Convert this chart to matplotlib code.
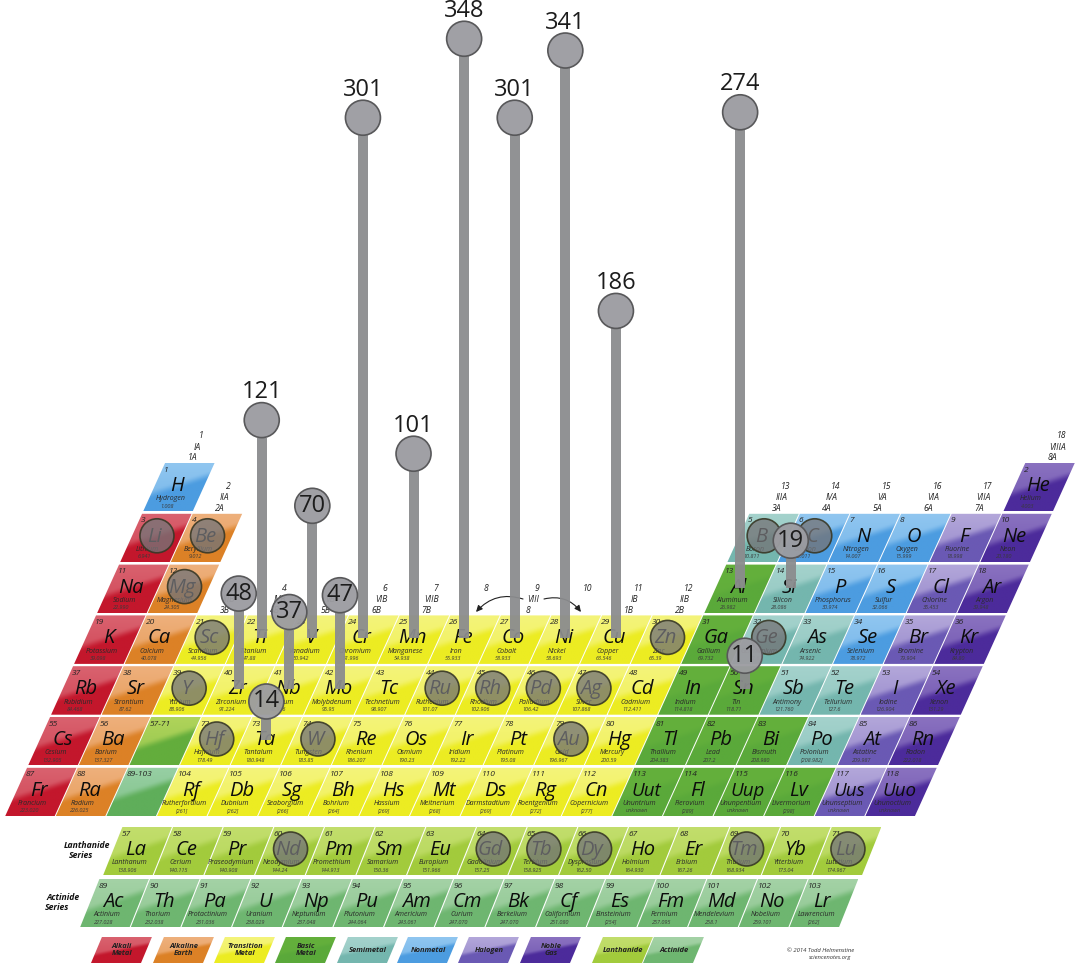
import numpy as np
import matplotlib
matplotlib.use("Agg")
import matplotlib.pyplot as plt
from matplotlib.patches import Polygon, Circle, FancyArrowPatch

plt.rcParams['font.family'] = ['Open Sans', 'DejaVu Sans']

# ---------- data ----------
main_numbers = [*range(1, 57), *range(72, 89), *range(104, 119)]
main_symbols = ("H He Li Be B C N O F Ne Na Mg Al Si P S Cl Ar "
                "K Ca Sc Ti V Cr Mn Fe Co Ni Cu Zn Ga Ge As Se Br Kr "
                "Rb Sr Y Zr Nb Mo Tc Ru Rh Pd Ag Cd In Sn Sb Te I Xe "
                "Cs Ba Hf Ta W Re Os Ir Pt Au Hg Tl Pb Bi Po At Rn "
                "Fr Ra Rf Db Sg Bh Hs Mt Ds Rg Cn Uut Fl Uup Lv Uus Uuo").split()
main_names = ("Hydrogen Helium Lithium Beryllium Boron Carbon Nitrogen Oxygen Fluorine Neon "
              "Sodium Magnesium Aluminum Silicon Phosphorus Sulfur Chlorine Argon "
              "Potassium Calcium Scandium Titanium Vanadium Chromium Manganese Iron Cobalt Nickel "
              "Copper Zinc Gallium Germanium Arsenic Selenium Bromine Krypton "
              "Rubidium Strontium Yttrium Zirconium Niobium Molybdenum Technetium Ruthenium Rhodium "
              "Palladium Silver Cadmium Indium Tin Antimony Tellurium Iodine Xenon "
              "Cesium Barium Hafnium Tantalum Tungsten Rhenium Osmium Iridium Platinum Gold Mercury "
              "Thallium Lead Bismuth Polonium Astatine Radon "
              "Francium Radium Rutherfordium Dubnium Seaborgium Bohrium Hassium Meitnerium "
              "Darmstadtium Roentgenium Copernicium Ununtrium Flerovium Ununpentium Livermorium "
              "Ununseptium Ununoctium").split()
main_masses = ("1.008 4.003 6.941 9.012 10.811 12.011 14.007 15.999 18.998 20.180 "
               "22.990 24.305 26.982 28.086 30.974 32.066 35.453 39.948 "
               "39.098 40.078 44.956 47.88 50.942 51.996 54.938 55.933 58.933 58.693 "
               "63.546 65.39 69.732 72.61 74.922 78.972 79.904 84.80 "
               "84.468 87.62 88.906 91.224 92.906 95.95 98.907 101.07 102.906 "
               "106.42 107.868 112.411 114.818 118.71 121.760 127.6 126.904 131.29 "
               "132.905 137.327 178.49 180.948 183.85 186.207 190.23 192.22 195.08 196.967 200.59 "
               "204.383 207.2 208.980 [208.982] 209.987 222.018 "
               "223.020 226.025 [261] [262] [266] [264] [269] [268] [269] [272] [277] "
               "unknown [289] unknown [298] unknown unknown").split()
main_groups = [1, 18, 1, 2, *range(13, 19), 1, 2, *range(13, 19),
               *range(1, 19), *range(1, 19),
               1, 2, *range(4, 19), 1, 2, *range(4, 19)]
main_periods = [1] * 2 + [2] * 8 + [3] * 8 + [4] * 18 + [5] * 18 + [6] * 17 + [7] * 17
main_kinds = ("N G A E S N N N H G A E B S N N H G "
              "A E T T T T T T T T T T B S S N H G "
              "A E T T T T T T T T T T B B S S H G "
              "A E T T T T T T T T T B B B S H G "
              "A E T T T T T T T T T B B B B H G").split()

lanth_symbols = "La Ce Pr Nd Pm Sm Eu Gd Tb Dy Ho Er Tm Yb Lu".split()
lanth_names = ("Lanthanum Cerium Praseodymium Neodymium Promethium Samarium Europium Gadolinium "
               "Terbium Dysprosium Holmium Erbium Thulium Ytterbium Lutetium").split()
lanth_masses = ("138.906 140.115 140.908 144.24 144.913 150.36 151.966 157.25 "
                "158.925 162.50 164.930 167.26 168.934 173.04 174.967").split()
actin_symbols = "Ac Th Pa U Np Pu Am Cm Bk Cf Es Fm Md No Lr".split()
actin_names = ("Actinium Thorium Protactinium Uranium Neptunium Plutonium Americium Curium "
               "Berkelium Californium Einsteinium Fermium Mendelevium Nobelium Lawrencium").split()
actin_masses = ("227.028 232.038 231.036 238.029 237.048 244.064 243.061 247.070 "
                "247.070 251.080 [254] 257.095 258.1 259.101 [262]").split()

stem_symbols = ["Fe", "Ni", "Cr", "Co", "Al", "Cu", "Ti", "Mn", "V", "Zr", "Mo", "Nb", "Si", "Ta", "Sn"]
stem_values = [348, 341, 301, 301, 274, 186, 121, 101, 70, 48, 47, 37, 19, 14, 11]
flat_symbols = ["Li", "Be", "Mg", "Sc", "Y", "Hf", "W", "Ru", "Rh", "Pd", "Ag", "Au", "Zn",
                "B", "C", "Ge", "Nd", "Gd", "Tb", "Dy", "Tm", "Lu"]

group_numbers = [str(i) for i in range(1, 19)]
group_roman = ["IA", "IIA", "IIIB", "IVB", "VB", "VIB", "VIIB", "", "VIII", "", "IB", "IIB",
               "IIIA", "IVA", "VA", "VIA", "VIIA", "VIIIA"]
group_cas = ["1A", "2A", "3B", "4B", "5B", "6B", "7B", "", "8", "", "1B", "2B",
             "3A", "4A", "5A", "6A", "7A", "8A"]
group_top_period = [1, 2, 4, 4, 4, 4, 4, 4, 4, 4, 4, 4, 2, 2, 2, 2, 2, 1]

legend_labels = ["Alkali\nMetal", "Alkaline\nEarth", "Transition\nMetal", "Basic\nMetal", "Semimetal",
                 "Nonmetal", "Halogen", "Noble\nGas", "Lanthanide", "Actinide"]
legend_kinds = ["A", "E", "T", "B", "S", "N", "H", "G", "L", "C"]

# dark (body) and light (gloss) colour per category
dark = {"A": "#c3172c", "E": "#dc8126", "T": "#ecec22", "B": "#5aa93a", "S": "#74b6ae",
        "N": "#4c9ce0", "H": "#6a59b4", "G": "#4c2b9b", "L": "#a2cb3c", "C": "#6eb670"}
light = {"A": "#d9626f", "E": "#eeb07c", "T": "#f4f47a", "B": "#64b03c", "S": "#a4d2cc",
         "N": "#90c6f0", "H": "#b3a7da", "G": "#8a72c0", "L": "#c2de6c", "C": "#a4d2a6"}

# ---------- geometry ----------
W, H, SK, PITCH = 49.5, 48.5, 0.4528, 50.6


def main_top(period):
    return 463 + 50.8 * (period - 1)


def main_left(group, y):
    return 5 + PITCH * (group - 1) + SK * (816.5 - y)


def rgb(c):
    return np.array(matplotlib.colors.to_rgb(c))


fig = plt.figure(figsize=(10.8, 9.66), dpi=100)
ax = fig.add_axes([0, 0, 1, 1])
ax.set_xlim(0, 1080)
ax.set_ylim(966, 0)
ax.axis("off")

V, U = np.mgrid[0:1:28j, 0:1:28j]


def cell(x_bl, y_top, w, h, sk, c_dark, c_light, z=1):
    """Glossy sheared cell; x_bl is the bottom-left corner."""
    dx = sk * h
    pts = [(x_bl + dx, y_top), (x_bl + dx + w, y_top), (x_bl + w, y_top + h), (x_bl, y_top + h)]
    t = np.clip((0.47 - 0.48 * (U - 0.5) - V) / 0.20 + 0.5, 0, 1)
    t = t * t * (3 - 2 * t) * (0.62 + 0.38 * (1 - V))
    img = (1 - t)[..., None] * rgb(c_dark) + t[..., None] * rgb(c_light)
    im = ax.imshow(img, extent=(x_bl, x_bl + dx + w, y_top + h, y_top), aspect="auto",
                   interpolation="bilinear", zorder=z)
    poly = Polygon(pts, closed=True, facecolor="none", edgecolor="none", transform=ax.transData)
    ax.add_patch(poly)
    im.set_clip_path(poly)
    return pts


centers = {}


def element(x_bl, y_top, sk, num, sym, name, mass, kind):
    cell(x_bl, y_top, W, H, sk, dark[kind], light[kind])
    left = lambda y: x_bl + sk * (y_top + H - y)
    cx = lambda y: left(y) + W / 2 - 3
    ax.text(left(y_top + 7) + 2, y_top + 7, str(num), fontsize=6, style="italic", color="#222",
            ha="left", va="center", zorder=3)
    fs = 14.5 if len(sym) < 3 else 13.5
    ax.text(cx(y_top + 23) + 1, y_top + 23, sym, fontsize=fs, style="italic", color="#0c0c0c",
            ha="center", va="center", zorder=3)
    ax.text(cx(y_top + 36), y_top + 36, name, fontsize=5.0, style="italic", color="#2a2a2a",
            ha="center", va="center", zorder=3)
    ax.text(cx(y_top + 43), y_top + 43, mass, fontsize=4.0, style="italic", color="#3a3a3a",
            ha="center", va="center", zorder=3)
    centers[sym] = (left(y_top + 24) + W / 2, y_top + 24)


# main table
for n, s, nm, m, g, p, k in zip(main_numbers, main_symbols, main_names, main_masses,
                                main_groups, main_periods, main_kinds):
    top = main_top(p)
    element(main_left(g, top + H), top, SK, n, s, nm, m, k)

# placeholder cells
for g, p, lab, cols in [(3, 6, "57-71", ("#63ad3c", "#b0d45a")), (3, 7, "89-103", ("#5fae5a", "#97cfa4"))]:
    top = main_top(p)
    cell(main_left(g, top + H), top, W, H, SK, cols[0], cols[1])
    ax.text(main_left(g, top + 7) + 2, top + 7, lab, fontsize=6, style="italic", color="#222",
            ha="left", va="center", zorder=3)

# f-block
for i in range(15):
    element(103 + 50.67 * i, 827, 0.40, 57 + i, lanth_symbols[i], lanth_names[i], lanth_masses[i], "L")
    element(80 + 50.67 * i, 879, 0.40, 89 + i, actin_symbols[i], actin_names[i], actin_masses[i], "C")

# group headers
for i in range(18):
    top = main_top(group_top_period[i])
    tl = main_left(i + 1, top)
    for txt, off, dy in [(group_numbers[i], 36, -27), (group_roman[i], 32, -16), (group_cas[i], 27, -5)]:
        if txt:
            ax.text(tl + off, top + dy, txt, fontsize=6.2, style="italic", color="#222",
                    ha="center", va="center", zorder=3)

# VIII arrows
arrow = dict(arrowstyle="-|>,head_length=2.5,head_width=1.2", color="#222", lw=0.8, zorder=3,
             shrinkA=0, shrinkB=0, mutation_scale=1.5)
ax.add_patch(FancyArrowPatch((523, 599), (476, 612), connectionstyle="arc3,rad=0.32", **arrow))
ax.add_patch(FancyArrowPatch((544, 599), (581, 612), connectionstyle="arc3,rad=-0.32", **arrow))

# series labels
for x, y, t in [(87, 846, "Lanthanide"), (81, 856, "Series"), (63, 897, "Actinide"), (57, 907, "Series")]:
    ax.text(x, y, t, fontsize=6.2, style="italic", weight="bold", color="#111", ha="center", va="center", zorder=3)

# legend
leg_x = [91, 153, 214, 275, 337, 397, 458, 520, 592, 643]
for x, lab, k in zip(leg_x, legend_labels, legend_kinds):
    wl = 50
    cell(x, 937, wl, 26, 0.42, dark[k], light[k])
    ax.text(x + 31, 950, lab, fontsize=5.4, style="italic", weight="bold", color="#222",
            ha="center", va="center", linespacing=1.15, zorder=3)

ax.text(854, 951, "© 2014 Todd Helmenstine", fontsize=4.2, style="italic", color="#333", ha="right", va="center")
ax.text(851, 957.5, "sciencenotes.org", fontsize=4.2, style="italic", color="#333", ha="right", va="center")

# flat markers
for s in flat_symbols:
    cx, cy = centers[s]
    ax.add_patch(Circle((cx + 1, cy - 2), 17, facecolor=(0.46, 0.46, 0.47, 0.78),
                        edgecolor=(0.22, 0.22, 0.15, 0.9), lw=1.2, zorder=4))

# lollipops: height above the element scales with value
PX_PER_UNIT = 1.68
RAD = 17.5
for s, v in zip(stem_symbols, stem_values):
    cx, cy = centers[s]
    yc = cy - 16 - PX_PER_UNIT * v
    ax.plot([cx, cx], [cy - 1, yc + RAD], color="#8b8c8e", lw=7.2, alpha=0.95,
            solid_capstyle="butt", zorder=5)
    ax.add_patch(Circle((cx, yc), RAD, facecolor=(0.61, 0.61, 0.63, 0.96),
                        edgecolor="#58585a", lw=1.2, zorder=6))
    ty = yc - 28 if v > 100 else yc
    ax.text(cx, ty, str(v), fontsize=17, color="#1c1c1c", ha="center", va="center", zorder=7)

fig.savefig("out.png", dpi=100)
